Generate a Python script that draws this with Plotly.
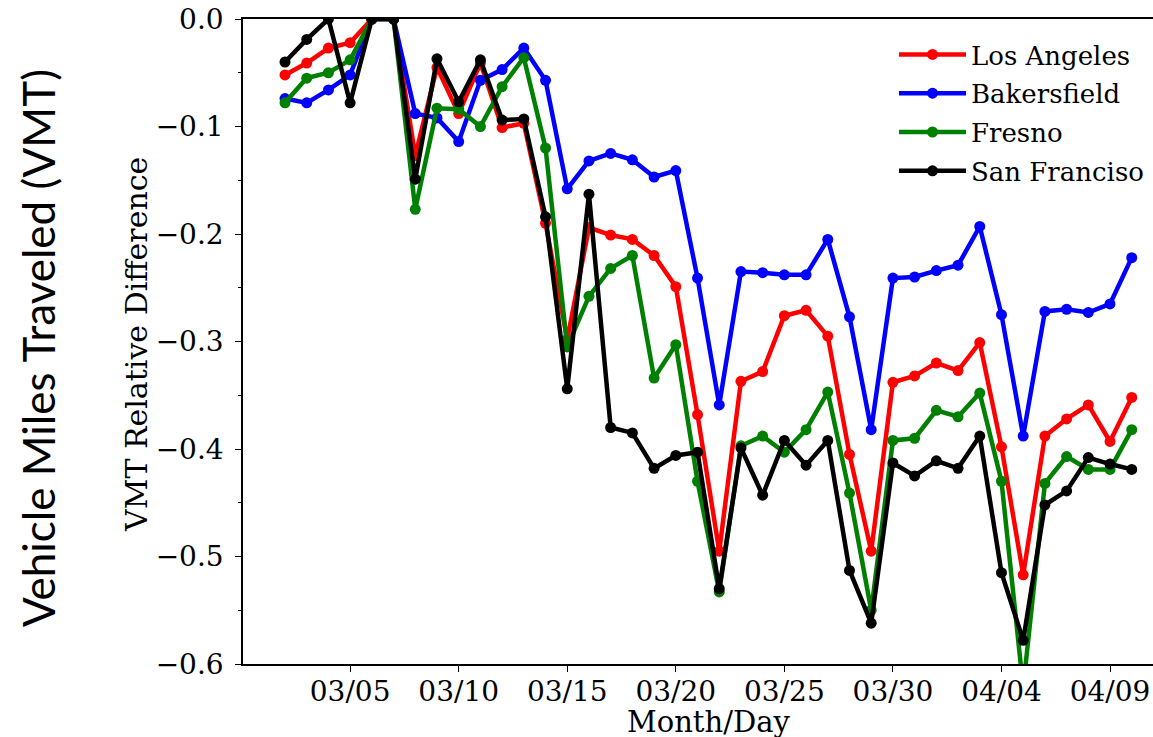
import plotly.graph_objects as go
import pandas as pd

dates = pd.date_range("2020-03-02", "2020-04-10", freq="D").strftime("%Y-%m-%d").tolist()

los_angeles = [-0.052, -0.041, -0.027, -0.022, 0.0, 0.0, -0.127, -0.045, -0.088, -0.041,
               -0.101, -0.097, -0.190, -0.298, -0.194, -0.201, -0.205, -0.220, -0.249, -0.368,
               -0.495, -0.337, -0.328, -0.276, -0.271, -0.295, -0.405, -0.495, -0.338, -0.332,
               -0.320, -0.327, -0.301, -0.398, -0.517, -0.388, -0.372, -0.359, -0.393, -0.352]
bakersfield = [-0.074, -0.078, -0.066, -0.052, 0.0, 0.0, -0.088, -0.092, -0.114, -0.057,
               -0.047, -0.027, -0.057, -0.158, -0.132, -0.125, -0.131, -0.147, -0.141, -0.241,
               -0.359, -0.235, -0.236, -0.238, -0.238, -0.205, -0.277, -0.382, -0.241, -0.240,
               -0.234, -0.229, -0.193, -0.275, -0.388, -0.272, -0.270, -0.273, -0.265, -0.222]
fresno = [-0.078, -0.055, -0.050, -0.038, 0.0, 0.0, -0.177, -0.083, -0.084, -0.100,
          -0.063, -0.036, -0.120, -0.305, -0.258, -0.232, -0.220, -0.334, -0.303, -0.430,
          -0.533, -0.397, -0.388, -0.403, -0.382, -0.347, -0.441, -0.550, -0.392, -0.390,
          -0.364, -0.370, -0.348, -0.430, -0.622, -0.432, -0.407, -0.419, -0.419, -0.382]
san_francisco = [-0.040, -0.019, 0.0, -0.078, 0.0, 0.0, -0.149, -0.037, -0.077, -0.038,
                 -0.094, -0.093, -0.184, -0.344, -0.163, -0.380, -0.385, -0.418, -0.406, -0.403,
                 -0.530, -0.399, -0.443, -0.392, -0.415, -0.392, -0.513, -0.562, -0.413, -0.425,
                 -0.411, -0.418, -0.388, -0.515, -0.578, -0.452, -0.439, -0.408, -0.414, -0.419]

series_names = ["Los Angeles", "Bakersfield", "Fresno", "San Franciso"]
series_values = [los_angeles, bakersfield, fresno, san_francisco]
series_colors = ["#ff0000", "#0000ff", "#008000", "#000000"]

tick_dates = ["2020-03-05", "2020-03-10", "2020-03-15", "2020-03-20",
              "2020-03-25", "2020-03-30", "2020-04-04", "2020-04-09"]
tick_labels = ["03/05", "03/10", "03/15", "03/20", "03/25", "03/30", "04/04", "04/09"]

SERIF = "DejaVu Serif"
PW = 910.0   # plot width in px (243 -> 1153)
PH = 645.0   # plot height in px (19 -> 664)

fig = go.Figure()
for name, vals, col in zip(series_names, series_values, series_colors):
    fig.add_trace(go.Scatter(
        x=dates, y=vals, name=name, mode="lines+markers",
        line=dict(color=col, width=4.5),
        marker=dict(color=col, size=11),
        legendgroup=name,
    ))

fig.update_layout(
    width=1153, height=737,
    margin=dict(l=243, r=0, t=19, b=73, autoexpand=False),
    plot_bgcolor="white", paper_bgcolor="white",
    font=dict(family=SERIF, color="black", size=28),
    showlegend=True,
    legend=dict(
        x=(894 - 243) / PW, y=1 - (31 - 19) / PH, xanchor="left", yanchor="top",
        font=dict(family=SERIF, size=26, color="black"),
        bgcolor="rgba(255,255,255,0)",
        tracegroupgap=2,
        itemwidth=67,
    ),
)

fig.update_xaxes(
    type="date",
    range=["2020-02-29 01:34", "2020-04-10 23:30"],
    tickmode="array", tickvals=tick_dates, ticktext=tick_labels,
    ticks="outside", ticklen=6, tickwidth=1.2, tickcolor="black",
    showline=True, linecolor="black", linewidth=1.5, mirror=True,
    showgrid=False, zeroline=False,
    tickfont=dict(family=SERIF, size=28, color="black"),
    ticklabelstandoff=-4,
    ticklabeloverflow="allow",
)
fig.update_yaxes(
    range=[-0.6, 0.0],
    tickmode="array", tickvals=[0.0, -0.1, -0.2, -0.3, -0.4, -0.5, -0.6],
    ticktext=["0.0", "\u22120.1", "\u22120.2", "\u22120.3", "\u22120.4", "\u22120.5", "\u22120.6"],
    ticks="outside", ticklen=6, tickwidth=1.2, tickcolor="black",
    minor=dict(tickvals=[-0.05, -0.15, -0.25, -0.35, -0.45, -0.55], ticks="outside",
               ticklen=3.5, tickwidth=1, tickcolor="black"),
    showline=True, linecolor="black", linewidth=1.5, mirror=False,
    showgrid=False, zeroline=False,
    tickfont=dict(family=SERIF, size=28, color="black"),
    ticklabelstandoff=6,
    ticklabeloverflow="allow",
)

fig.add_annotation(
    text="Month/Day", xref="paper", yref="paper",
    x=(708 - 243) / PW, y=-(722 - 664) / PH,
    xanchor="center", yanchor="middle", showarrow=False,
    font=dict(family=SERIF, size=29, color="black"),
)
fig.add_annotation(
    text="VMT Relative Difference", xref="paper", yref="paper",
    x=-(243 - 136) / PW, y=1 - (345 - 19) / PH,
    xanchor="center", yanchor="middle", showarrow=False, textangle=-90,
    font=dict(family=SERIF, size=30, color="black"),
)
fig.add_annotation(
    text="Vehicle Miles Traveled (VMT)", xref="paper", yref="paper",
    x=-(243 - 38) / PW, y=1 - (348 - 19) / PH,
    xanchor="center", yanchor="middle", showarrow=False, textangle=-90,
    font=dict(family="Lato", size=44, color="black"),
)

fig.write_html(
    "out.html",
    config={"displayModeBar": False},
    post_script="document.body.style.margin='0px';document.body.style.overflow='hidden';",
)
